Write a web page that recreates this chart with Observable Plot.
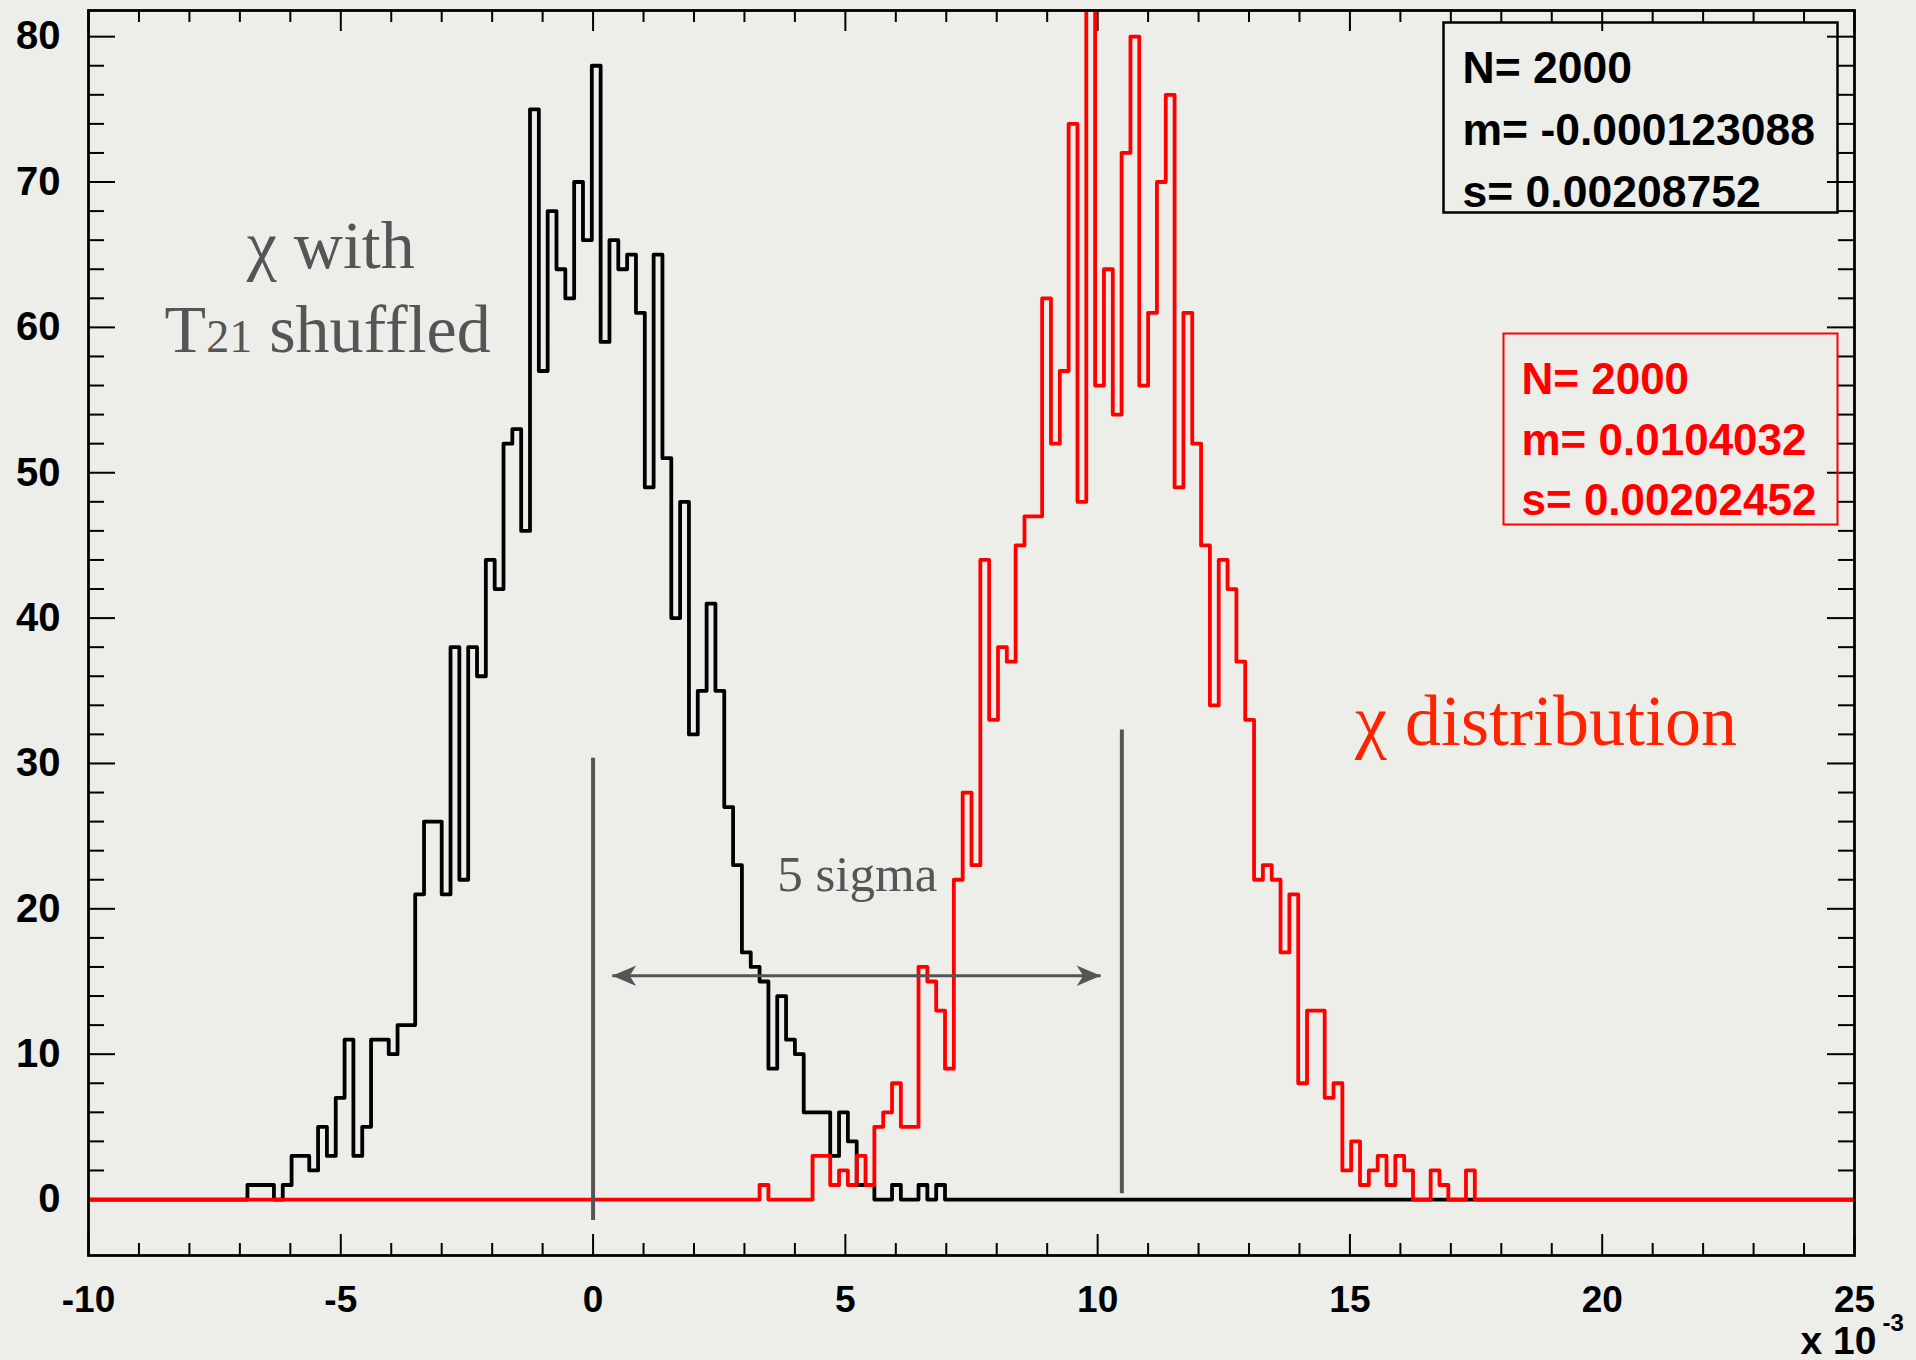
<!DOCTYPE html>
<html><head><meta charset="utf-8">
<script src="https://cdn.jsdelivr.net/npm/d3@7"></script>
<script src="https://cdn.jsdelivr.net/npm/@observablehq/plot@0.6"></script>
<style>
html,body{margin:0;padding:0;background:#ededea;}
#chart{width:1916px;height:1360px;}
svg{display:block}
</style></head><body><div id="chart"></div>
<script>
// ---- histogram definition (x in units of 1e-3) ----
const xMin = -10, binWidth = 0.175, nBins = 200;

// chi with T21 shuffled (black), counts starting at bin 18
const blackStart = 18;
const blackCounts = [1,1,1,0,1, 3,3,2,5,3, 7,11,3,5,11, 11,10,12,12,21, 26,26,21,38,22,
  38,36,44,42,52, 53,46,75,57,68, 64,62,70,66,78, 59,66,64,65,61, 49,65,51,40,48,
  32,35,41,35,27, 23,17,16,15,9, 14,11,10,6,6, 6,3,6,4,1, 1,0,0,1,0, 0,1,0,1];

// chi distribution (red), counts starting at bin 76
const redStart = 76;
const redCounts = [1,0,0,0,0, 0,3,3,1,2, 1,3,1,5,6, 8,5,5,16,15, 13,9,22,28,23,
  44,33,38,37,45, 47,47,62,52,57, 74,48,83,56,64, 54,72,80,56,61, 70,76,49,61,52,
  45,34,44,42,37, 33,22,23,22,17, 21,8,13,13,7, 8,2,4,1,2, 3,1,3,2,0, 0,2,1,0,0, 2];

// axis ticks
const xTickLabels = [-10, -5, 0, 5, 10, 15, 20, 25];
const xMinorTicks = [-9,-8,-7,-6,-4,-3,-2,-1,1,2,3,4,6,7,8,9,11,12,13,14,16,17,18,19,21,22,23,24];
const yTickLabels = [0, 10, 20, 30, 40, 50, 60, 70, 80];
const yMinorTicks = [2,4,6,8,12,14,16,18,22,24,26,28,32,34,36,38,42,44,46,48,52,54,56,58,62,64,66,68,72,74,76,78];

// stats boxes
const blackStats = ["N= 2000", "m= -0.000123088", "s= 0.00208752"];
const redStats = ["N= 2000", "m= 0.0104032", "s= 0.00202452"];

// annotations (data units)
const sigmaLines = [{x: 0, y1: -1.45, y2: 30.35}, {x: 10.48, y1: 0.4, y2: 32.3}];
const arrowSpan = {x1: 0.38, x2: 10.06, y: 15.4};
const labelsGrey = [{x: -5.2, y: 64.1, text: "χ with"}, {x: -5.26, y: 58.3, text: "T21 shuffled"}];
const labelRed = [{x: 15.1, y: 31.3, text: "χ distribution"}];
const labelSigma = [{x: 3.65, y: 21.2, text: "5 sigma"}];

function series(start, counts) {
  const v = new Array(nBins).fill(0);
  counts.forEach((c, i) => { v[start + i] = c; });
  const pts = v.map((c, k) => ({x: xMin + k * binWidth, y: c}));
  pts.push({x: xMin + nBins * binWidth, y: v[nBins - 1]});
  return pts;
}
const blackSeries = series(blackStart, blackCounts);
const redSeries = series(redStart, redCounts);

const W = 1916, H = 1360, mL = 88, mR = 62, mT = 10, mB = 105;
const plotW = W - mL - mR, plotH = H - mT - mB;
const grey = "#555555";
const serif = "'Liberation Serif', 'Times New Roman', serif";

const arrowHead = {
  draw(ctx, size) {
    const r = Math.sqrt(size / Math.PI);
    ctx.moveTo(0, 0);
    ctx.lineTo(-2 * r, -0.85 * r);
    ctx.lineTo(-1.45 * r, 0);
    ctx.lineTo(-2 * r, 0.85 * r);
    ctx.closePath();
  }
};

const chart = Plot.plot({
  width: W, height: H,
  marginLeft: mL, marginRight: mR, marginTop: mT, marginBottom: mB,
  x: {domain: [-10, 25], label: null},
  y: {domain: [-3.85, 81.8], label: null},
  style: {background: "#ededea", fontFamily: "'Liberation Sans', Arial, sans-serif", color: "black"},
  marks: [
    // inward ticks
    Plot.tickX(xMinorTicks, {x: d => d, insetTop: plotH - 12, stroke: "black", strokeWidth: 2}),
    Plot.tickX(xTickLabels, {x: d => d, insetTop: plotH - 21, stroke: "black", strokeWidth: 2}),
    Plot.tickX(xMinorTicks, {x: d => d, insetBottom: plotH - 12, stroke: "black", strokeWidth: 2}),
    Plot.tickX(xTickLabels, {x: d => d, insetBottom: plotH - 21, stroke: "black", strokeWidth: 2}),
    Plot.tickY(yMinorTicks, {y: d => d, insetRight: plotW - 16, stroke: "black", strokeWidth: 2}),
    Plot.tickY(yTickLabels, {y: d => d, insetRight: plotW - 27, stroke: "black", strokeWidth: 2}),
    Plot.tickY(yMinorTicks, {y: d => d, insetLeft: plotW - 16, stroke: "black", strokeWidth: 2}),
    Plot.tickY(yTickLabels, {y: d => d, insetLeft: plotW - 27, stroke: "black", strokeWidth: 2}),
    Plot.axisX({ticks: xTickLabels, tickSize: 0, tickPadding: 30, tickFormat: d => String(d),
      fontSize: 37, fontWeight: "bold", label: null}),
    Plot.axisY({ticks: yTickLabels, tickSize: 0, tickPadding: 28, tickFormat: d => String(d),
      fontSize: 40, fontWeight: "bold", label: null}),
    // histograms
    Plot.line(blackSeries, {x: "x", y: "y", curve: "step-after", stroke: "black", strokeWidth: 3.8, clip: true}),
    Plot.line(redSeries, {x: "x", y: "y", curve: "step-after", stroke: "#ff0000", strokeWidth: 3.8, clip: true}),
    // frame
    Plot.frame({stroke: "black", strokeWidth: 2.8}),
    // stats boxes
    Plot.frame({insetLeft: 1355, insetRight: 17, insetTop: 12, insetBottom: 1043, stroke: "black", strokeWidth: 2.5}),
    Plot.text([blackStats.join("\n")], {frameAnchor: "top-left", dx: 1374, dy: 29, textAnchor: "start",
      lineAnchor: "top", lineHeight: 1.39, fontSize: 44.5, fontWeight: "bold", fill: "black"}),
    Plot.frame({insetLeft: 1415, insetRight: 17, insetTop: 323, insetBottom: 731, stroke: "#ff0000", strokeWidth: 2}),
    Plot.text([redStats.join("\n")], {frameAnchor: "top-left", dx: 1433, dy: 341, textAnchor: "start",
      lineAnchor: "top", lineHeight: 1.37, fontSize: 44, fontWeight: "bold", fill: "#ff0000"}),
    // annotations
    Plot.ruleX(sigmaLines, {x: "x", y1: "y1", y2: "y2", stroke: grey, strokeWidth: 4}),
    Plot.link([arrowSpan], {x1: "x1", x2: "x2", y1: "y", y2: "y", stroke: grey, strokeWidth: 3}),
    Plot.dot([{x: arrowSpan.x2, rot: 0}, {x: arrowSpan.x1, rot: 180}], {x: "x", y: () => arrowSpan.y,
      symbol: arrowHead, r: 12, rotate: "rot", fill: grey, stroke: "none"}),
    Plot.text(labelsGrey, {x: "x", y: "y", text: "text", textAnchor: "middle", lineAnchor: "bottom",
      fontSize: 68, fontFamily: serif, fill: grey}),
    Plot.text(labelRed, {x: "x", y: "y", text: "text", textAnchor: "start", lineAnchor: "bottom",
      fontSize: 72, fontFamily: serif, fill: "#ff2200"}),
    Plot.text(labelSigma, {x: "x", y: "y", text: "text", textAnchor: "start", lineAnchor: "bottom",
      fontSize: 51, fontFamily: serif, fill: grey}),
    // axis multiplier
    Plot.text(["x 10"], {frameAnchor: "bottom-right", dx: 22, dy: 98, textAnchor: "end", lineAnchor: "bottom",
      fontSize: 39, fontWeight: "bold", fill: "black"}),
    Plot.text(["-3"], {frameAnchor: "bottom-right", dx: 28, dy: 75, textAnchor: "start", lineAnchor: "bottom",
      fontSize: 24, fontWeight: "bold", fill: "black"})
  ]
});

// smaller figures for "21" in T21
d3.select(chart).selectAll("text").each(function() {
  const el = this;
  const tsp = el.querySelector("tspan");
  const target = tsp || el;
  if (target.textContent === "T21 shuffled") {
    target.textContent = "";
    const ns = "http://www.w3.org/2000/svg";
    const a = document.createElementNS(ns, "tspan"); a.textContent = "T";
    const b = document.createElementNS(ns, "tspan"); b.textContent = "21"; b.setAttribute("font-size", "46");
    const c = document.createElementNS(ns, "tspan"); c.textContent = " shuffled";
    target.appendChild(a); target.appendChild(b); target.appendChild(c);
  }
});

document.getElementById("chart").appendChild(chart);
</script>
</body></html>
